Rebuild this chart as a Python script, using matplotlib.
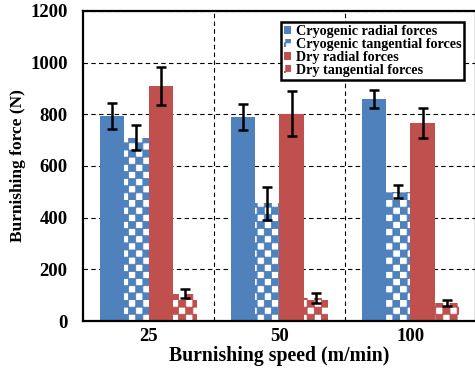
import warnings
warnings.filterwarnings('ignore')
import numpy as np
import matplotlib
matplotlib.use('Agg')
import matplotlib.pyplot as plt
from matplotlib import hatch as mhatch
from matplotlib.path import Path

# ---- data ----
speeds = ['25', '50', '100']
series_names = ['Cryogenic radial forces', 'Cryogenic tangential forces',
                'Dry radial forces', 'Dry tangential forces']
cryo_radial = [795, 790, 860]
cryo_radial_err = [50, 50, 35]
cryo_tang = [710, 455, 500]
cryo_tang_err = [50, 63, 25]
dry_radial = [910, 803, 765]
dry_radial_err = [73, 87, 58]
dry_tang = [105, 90, 70]
dry_tang_err = [17, 19, 13]
yticks = [0, 200, 400, 600, 800, 1000, 1200]

BLUE = '#4F81BD'
RED = '#C0504D'


# ---- custom checkerboard hatch ----
class CheckerHatch(mhatch.HatchPatternBase):
    filled = True

    def __init__(self, hatch, density):
        self.n = 14 if 'c' in hatch else 0
        self.num_vertices = (self.n * self.n // 2) * 5

    def set_vertices_and_codes(self, vertices, codes):
        n = self.n
        s = 1.0 / n
        verts = []
        for i in range(n):
            for j in range(n):
                if (i + j) % 2 == 0:
                    x0, y0 = i * s, j * s
                    verts.append([[x0, y0], [x0 + s, y0], [x0 + s, y0 + s],
                                  [x0, y0 + s], [x0, y0]])
        vertices[:] = np.array(verts).reshape(-1, 2)
        codes[:] = np.tile([Path.MOVETO, Path.LINETO, Path.LINETO,
                            Path.LINETO, Path.CLOSEPOLY], len(verts))


mhatch._hatch_types.append(CheckerHatch)

plt.rcParams['font.family'] = ['Liberation Serif', 'DejaVu Serif']
plt.rcParams['font.weight'] = 'bold'
plt.rcParams['hatch.linewidth'] = 0.6

fig = plt.figure(figsize=(4.75, 3.76), dpi=100)
ax = fig.add_axes([83 / 475, (376 - 321) / 376, 393 / 475, 310 / 376])

x = np.arange(len(speeds))
w = 0.187
err_kw = dict(ecolor='black', elinewidth=1.8, capsize=3.5, capthick=1.8)

ax.bar(x - 1.5 * w, cryo_radial, w, color=BLUE, yerr=cryo_radial_err,
       error_kw=err_kw, label=series_names[0], zorder=2)
ax.bar(x - 0.5 * w, cryo_tang, w, facecolor='white', edgecolor=BLUE,
       linewidth=0, hatch='c', yerr=cryo_tang_err, error_kw=err_kw,
       label=series_names[1], zorder=2)
ax.bar(x + 0.5 * w, dry_radial, w, color=RED, yerr=dry_radial_err,
       error_kw=err_kw, label=series_names[2], zorder=2)
ax.bar(x + 1.5 * w, dry_tang, w, facecolor='white', edgecolor=RED,
       linewidth=0, hatch='c', yerr=dry_tang_err, error_kw=err_kw,
       label=series_names[3], zorder=2)

ax.set_xlim(-0.5, 2.5)
ax.set_ylim(0, 1200)
ax.set_yticks(yticks)
ax.set_yticklabels([str(v) for v in yticks])
ax.set_xticks(x)
ax.set_xticklabels(speeds)
ax.set_xticks([0.5, 1.5], minor=True)
ax.tick_params(axis='both', which='both', length=0, labelsize=13.5)
ax.tick_params(axis='y', pad=11)
ax.tick_params(axis='x', pad=5)

ax.set_axisbelow(True)
ax.yaxis.grid(True, which='major', color='black', linestyle=(0, (4, 3)), linewidth=0.8)
ax.xaxis.grid(True, which='minor', color='black', linestyle=(0, (4, 3)), linewidth=0.8)

for s in ['left', 'bottom', 'top', 'right']:
    ax.spines[s].set_linewidth(1.6)

ax.set_ylabel('Burnishing force (N)', fontsize=12.5, fontweight='bold', labelpad=3)
ax.set_xlabel('Burnishing speed (m/min)', fontsize=14.2, fontweight='bold', labelpad=0.5)

leg = ax.legend(loc='upper right', bbox_to_anchor=(0.9695, 0.9645),
                borderaxespad=0, fancybox=False, framealpha=1,
                edgecolor='black', handlelength=0.5, handleheight=0.5,
                handletextpad=0.35, labelspacing=0.0, borderpad=0.2,
                prop={'size': 10.2, 'weight': 'bold'})
leg.get_frame().set_linewidth(1.8)

fig.savefig('out.png', dpi=100)
